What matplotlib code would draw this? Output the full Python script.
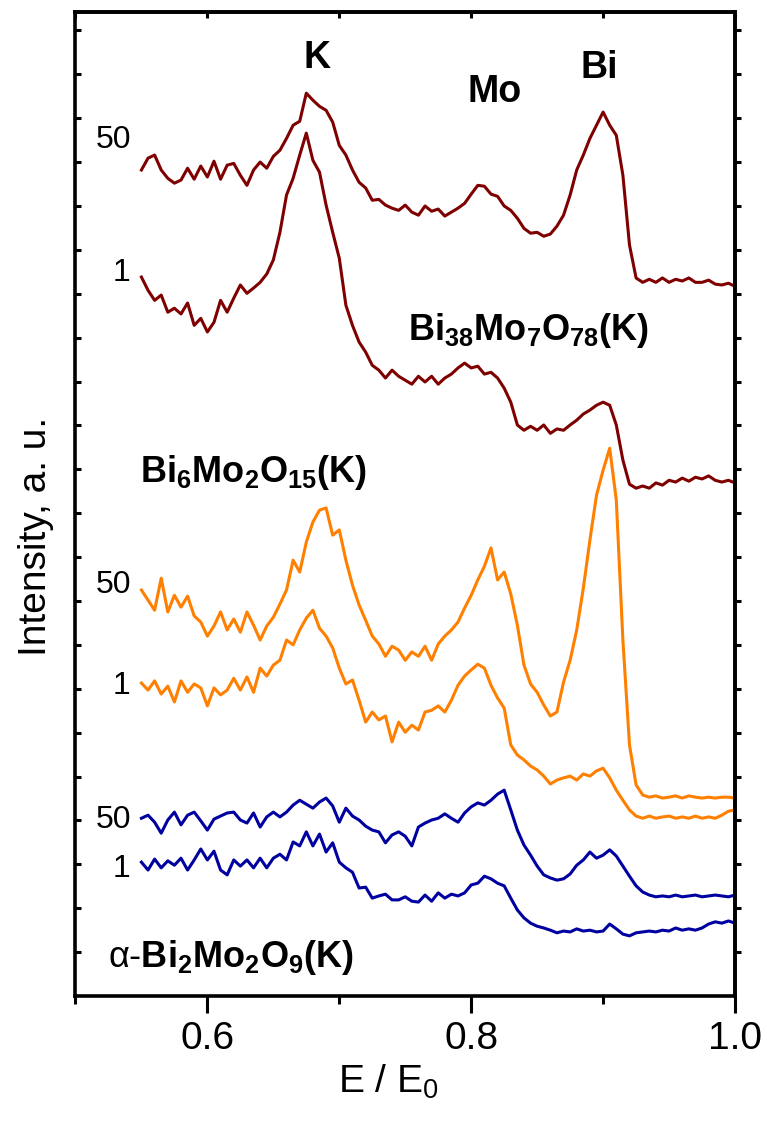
import numpy as np
import matplotlib
matplotlib.use('Agg')
import matplotlib.pyplot as plt
from matplotlib.ticker import MultipleLocator

# E / E0 axis of the scans (0.55 ... 1.00, step 0.005)
energy = np.linspace(0.55, 1.0, 91)

# intensity, a.u. (each curve already offset as in the figure)
bi38_50 = [18.82, 19.09, 19.16, 18.82, 18.63, 18.52, 18.59, 18.86, 18.61, 18.91,
           18.66, 19.02, 18.61, 18.93, 18.97, 18.70, 18.47, 18.82, 19.00, 18.86,
           19.13, 19.27, 19.54, 19.84, 19.93, 20.57, 20.41, 20.27, 20.18, 19.91,
           19.38, 19.16, 18.82, 18.54, 18.41, 18.13, 18.15, 18.02, 17.95, 17.90,
           18.02, 17.86, 17.79, 18.00, 17.88, 17.93, 17.77, 17.86, 17.95, 18.06,
           18.27, 18.47, 18.45, 18.27, 18.22, 18.00, 17.90, 17.72, 17.49, 17.38,
           17.40, 17.31, 17.36, 17.54, 17.79, 18.25, 18.82, 19.16, 19.54, 19.84,
           20.14, 19.84, 19.61, 18.70, 17.11, 16.36, 16.26, 16.33, 16.26, 16.36,
           16.26, 16.33, 16.29, 16.36, 16.26, 16.26, 16.31, 16.22, 16.20, 16.24,
           16.17]
bi38_1 = [16.38, 16.08, 15.85, 15.97, 15.58, 15.67, 15.54, 15.79, 15.28, 15.44,
          15.13, 15.35, 15.85, 15.58, 15.90, 16.20, 16.01, 16.13, 16.26, 16.45,
          16.77, 17.40, 18.25, 18.63, 19.16, 19.66, 19.04, 18.77, 18.02, 17.40,
          16.81, 15.74, 15.28, 14.90, 14.67, 14.37, 14.26, 14.08, 14.26, 14.12,
          14.03, 13.94, 14.12, 13.99, 14.12, 13.94, 14.08, 14.17, 14.31, 14.42,
          14.31, 14.35, 14.17, 14.21, 14.08, 13.85, 13.53, 13.01, 12.89, 12.98,
          12.89, 13.01, 12.82, 12.92, 12.89, 13.01, 13.12, 13.26, 13.35, 13.46,
          13.53, 13.46, 13.01, 12.21, 11.66, 11.57, 11.62, 11.57, 11.69, 11.64,
          11.75, 11.71, 11.80, 11.73, 11.82, 11.78, 11.85, 11.75, 11.71, 11.75,
          11.69]
bi6_50 = [9.25, 9.02, 8.79, 9.52, 8.75, 9.13, 8.86, 9.11, 8.66, 8.52,
          8.20, 8.43, 8.75, 8.34, 8.59, 8.29, 8.75, 8.45, 8.11, 8.43,
          8.63, 8.93, 9.25, 9.93, 9.66, 10.34, 10.80, 11.07, 11.12, 10.50,
          10.62, 9.93, 9.36, 8.91, 8.56, 8.20, 8.02, 7.74, 7.97, 7.88,
          7.65, 7.84, 7.74, 7.97, 7.65, 8.02, 8.20, 8.34, 8.52, 8.84,
          9.13, 9.48, 9.79, 10.21, 9.48, 9.66, 9.16, 8.45, 7.54, 7.11,
          6.92, 6.63, 6.38, 6.47, 7.15, 7.65, 8.34, 9.29, 10.39, 11.41,
          11.98, 12.48, 11.30, 8.11, 5.72, 4.81, 4.58, 4.53, 4.56, 4.51,
          4.53, 4.56, 4.51, 4.56, 4.53, 4.51, 4.53, 4.51, 4.53, 4.53,
          4.51]
bi6_1 = [7.13, 6.97, 7.18, 6.88, 7.06, 6.70, 7.18, 6.92, 7.11, 7.02,
         6.61, 7.02, 6.86, 6.97, 7.24, 6.97, 7.27, 6.92, 7.47, 7.29,
         7.54, 7.65, 8.11, 8.00, 8.34, 8.61, 8.79, 8.38, 8.20, 7.93,
         7.47, 7.11, 7.20, 6.74, 6.24, 6.47, 6.29, 6.38, 5.79, 6.24,
         6.01, 6.17, 6.06, 6.47, 6.51, 6.61, 6.47, 6.74, 7.08, 7.29,
         7.43, 7.56, 7.47, 7.08, 6.79, 6.56, 5.72, 5.49, 5.38, 5.24,
         5.15, 5.01, 4.83, 4.92, 4.97, 5.01, 4.92, 5.06, 5.01, 5.13,
         5.19, 4.97, 4.69, 4.46, 4.24, 4.10, 4.05, 4.10, 4.05, 4.08,
         4.10, 4.05, 4.08, 4.05, 4.10, 4.05, 4.08, 4.05, 4.12, 4.21,
         4.24]
alpha_50 = [4.05, 4.12, 3.96, 3.71, 4.01, 4.19, 3.90, 4.12, 4.19, 3.99,
            3.78, 4.03, 4.10, 4.17, 4.19, 4.01, 3.94, 4.17, 3.85, 4.08,
            4.19, 4.08, 4.19, 4.35, 4.46, 4.37, 4.28, 4.42, 4.51, 4.33,
            3.96, 4.28, 4.10, 4.01, 3.87, 3.78, 3.74, 3.49, 3.67, 3.74,
            3.64, 3.42, 3.85, 3.94, 4.01, 4.05, 4.15, 4.05, 3.96, 4.17,
            4.31, 4.40, 4.35, 4.46, 4.60, 4.69, 4.24, 3.78, 3.44, 3.21,
            2.96, 2.76, 2.69, 2.64, 2.67, 2.78, 2.98, 3.10, 3.28, 3.14,
            3.21, 3.33, 3.19, 2.96, 2.73, 2.51, 2.37, 2.30, 2.26, 2.28,
            2.26, 2.30, 2.26, 2.28, 2.30, 2.26, 2.28, 2.30, 2.28, 2.26,
            2.30]
alpha_1 = [3.05, 2.87, 3.12, 2.92, 3.08, 2.98, 3.14, 2.87, 3.10, 3.35,
           3.10, 3.30, 2.87, 2.76, 3.10, 2.96, 3.10, 2.92, 3.14, 2.92,
           3.14, 3.23, 3.10, 3.51, 3.42, 3.74, 3.42, 3.69, 3.28, 3.49,
           3.05, 2.92, 2.82, 2.46, 2.48, 2.23, 2.28, 2.32, 2.19, 2.19,
           2.26, 2.16, 2.14, 2.30, 2.16, 2.35, 2.23, 2.32, 2.28, 2.35,
           2.53, 2.57, 2.73, 2.67, 2.57, 2.51, 2.23, 1.96, 1.78, 1.66,
           1.59, 1.55, 1.50, 1.44, 1.48, 1.46, 1.53, 1.48, 1.50, 1.46,
           1.48, 1.64, 1.53, 1.41, 1.37, 1.44, 1.46, 1.48, 1.46, 1.50,
           1.48, 1.55, 1.50, 1.53, 1.50, 1.55, 1.64, 1.69, 1.66, 1.71,
           1.66]

curves = [(bi38_50, '#7f0000'), (bi38_1, '#7f0000'),
          (bi6_50, '#ff8000'), (bi6_1, '#ff8000'),
          (alpha_50, '#0000a0'), (alpha_1, '#0000a0')]
# dose labels at the start of each curve: (text, y)
dose_labels = [('50', 19.5), ('1', 16.47), ('50', 9.36), ('1', 7.06), ('50', 4.01), ('1', 2.89)]

plt.rcParams['font.family'] = ['Liberation Sans', 'DejaVu Sans']
plt.rcParams['mathtext.fontset'] = 'custom'
plt.rcParams['mathtext.rm'] = 'Liberation Sans'
plt.rcParams['mathtext.bf'] = 'Liberation Sans:bold'
plt.rcParams['mathtext.it'] = 'Liberation Sans:italic'

fig = plt.figure(figsize=(7.67, 11.21), dpi=100)
ax = fig.add_axes([0.0984, 0.1115, 0.8599, 0.8782])

for y, col in curves:
    ax.plot(energy, y, color=col, lw=2.2)

ax.set_xlim(0.5, 1.0)
ax.set_ylim(0, 22.43)

for lab, yv in dose_labels:
    ax.text(0.542, yv, lab, fontsize=23, ha='right', va='center')

ax.text(0.683, 21.37, 'K', fontsize=27, fontweight='bold', ha='center', va='center')
ax.text(0.818, 20.59, 'Mo', fontsize=27, fontweight='bold', ha='center', va='center')
ax.text(0.897, 21.14, 'Bi', fontsize=27, fontweight='bold', ha='center', va='center')

ax.text(0.752, 14.94, r'$\mathbf{Bi_{38}Mo_{7}O_{78}(K)}$', fontsize=26, va='baseline')
ax.text(0.549, 11.71, r'$\mathbf{Bi_{6}Mo_{2}O_{15}(K)}$', fontsize=26, va='baseline')
ax.text(0.5246, 0.66, r'$\mathrm{\alpha}\mathbf{\text{-}Bi_{2}Mo_{2}O_{9}(K)}$', fontsize=26,
        va='baseline')

ax.set_xlabel(r'E / E$_0$', fontsize=28, labelpad=6)
ax.xaxis.set_label_coords(0.475, -0.068)
ax.set_ylabel('Intensity, a. u.', fontsize=28)
ax.yaxis.set_label_coords(-0.033, 0.467)

ax.xaxis.set_major_locator(MultipleLocator(0.2))
ax.xaxis.set_minor_locator(MultipleLocator(0.1))
ax.tick_params(axis='x', which='major', direction='out', length=12, width=2.2,
               labelsize=28, pad=6)
ax.tick_params(axis='x', which='minor', direction='out', length=6, width=2.2)

top = ax.secondary_xaxis('top')
top.xaxis.set_major_locator(MultipleLocator(0.2))
top.xaxis.set_minor_locator(MultipleLocator(0.1))
top.tick_params(which='both', direction='in', length=4, width=2.2, labeltop=False)
top.spines['top'].set_linewidth(2.6)

ax.set_yticks(np.arange(1, 23))
ax.tick_params(axis='y', which='major', direction='in', length=4, width=2.2,
               labelleft=False)

sec = ax.secondary_yaxis('right')
sec.set_yticks(np.arange(1, 23))
sec.tick_params(direction='out', length=4, width=2.2, labelright=False)
sec.spines['right'].set_linewidth(2.6)

for s in ax.spines.values():
    s.set_linewidth(2.6)

fig.savefig('out.png', dpi=100)
